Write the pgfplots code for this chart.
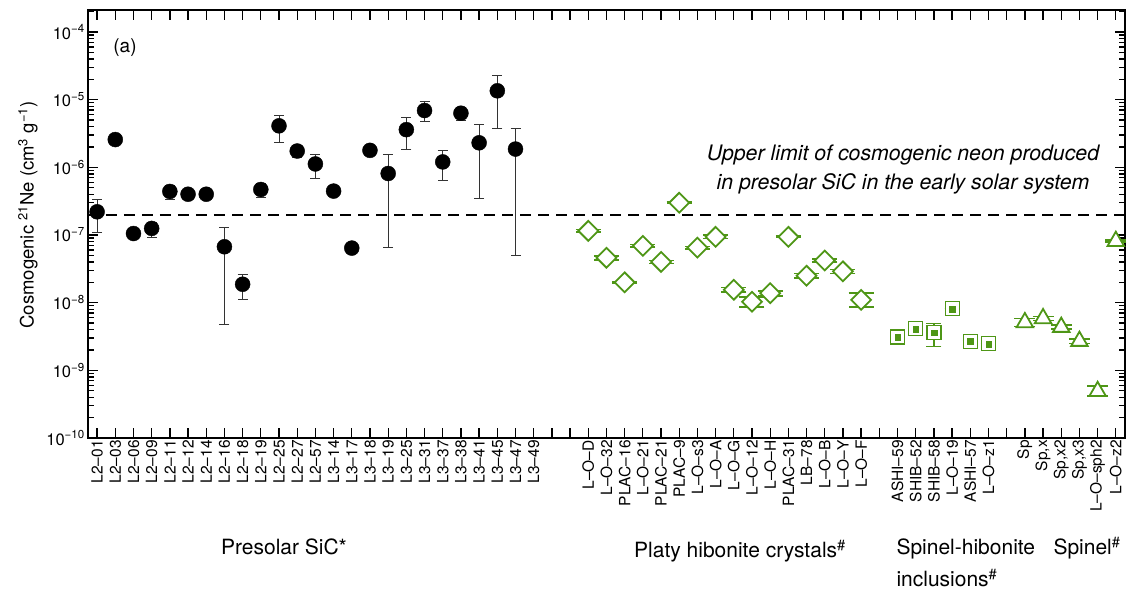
\documentclass[border=0pt]{standalone}
\usepackage{pgfplots}
\pgfplotsset{compat=1.18}
\usepackage{pgfplotstable}
\usepackage{fontspec}
\setmainfont{TeX Gyre Heros}
\definecolor{grn}{RGB}{78,150,22}

\pgfplotstableread{
x y ep em
1 2.2e-7 1.1e-7 1.1e-7
2 2.57e-6 1e-7 1e-7
3 1.05e-7 5e-9 5e-9
4 1.25e-7 3e-8 3.2e-8
5 4.4e-7 1e-7 1e-7
6 4.0e-7 3e-8 3e-8
7 4.0e-7 3e-8 3e-8
8 6.7e-8 6.2e-8 6.22e-8
9 1.87e-8 7.3e-9 7.5e-9
10 4.7e-7 1e-7 1.1e-7
11 4.1e-6 1.8e-6 1.8e-6
12 1.74e-6 3.5e-7 3.5e-7
13 1.12e-6 4.4e-7 4.4e-7
14 4.45e-7 3e-8 3e-8
15 6.4e-8 5e-9 5e-9
16 1.78e-6 1e-7 1e-7
17 8.1e-7 7.5e-7 7.44e-7
18 3.6e-6 1.9e-6 1.74e-6
19 6.9e-6 2.5e-6 2.2e-6
20 1.2e-6 5.8e-7 5.7e-7
21 6.3e-6 1.3e-6 1.3e-6
22 2.3e-6 2.0e-6 1.95e-6
23 1.35e-5 9.5e-6 9.7e-6
24 1.86e-6 1.84e-6 1.81e-6
}\sic

\pgfplotstableread{
x y ep em
28 1.15e-7 5e-9 5e-9
29 4.6e-8 3e-9 3e-9
30 2.0e-8 6e-10 6e-10
31 6.9e-8 3e-9 3e-9
32 4.0e-8 2e-9 2e-9
33 3.0e-7 6e-9 6e-9
34 6.5e-8 3e-9 3e-9
35 9.4e-8 5e-9 5e-9
36 1.55e-8 1.2e-9 1.2e-9
37 1.03e-8 1.7e-9 1.7e-9
38 1.38e-8 1.2e-9 1.2e-9
39 9.4e-8 2e-9 2e-9
40 2.5e-8 2e-9 2e-9
41 4.2e-8 2e-9 2e-9
42 2.9e-8 2e-9 2e-9
43 1.1e-8 2.8e-9 2.4e-9
}\plat

\pgfplotstableread{
x y ep em
45 3.1e-9 0 0
46 4.1e-9 0 0
47 3.6e-9 1.35e-9 1.35e-9
48 8.1e-9 0 0
49 2.7e-9 0 0
50 2.46e-9 0 0
}\shib

\pgfplotstableread{
x y ep em
52 5.1e-9 7.5e-10 6.5e-10
53 5.85e-9 4e-10 4e-10
54 4.35e-9 3e-10 3e-10
55 2.7e-9 2e-10 2e-10
56 4.9e-10 1.0e-10 7.5e-11
57 8.1e-8 3e-9 3e-9
}\spin

\begin{document}
\begin{tikzpicture}
\begin{axis}[
  name=ax,
  scale only axis,
  width=1037pt, height=428pt,
  xmin=0.5, xmax=57.5,
  ymode=log, log basis y=10,
  ymin=1e-10, ymax=2.11e-4,
  clip=false,
  axis line style={line width=2pt},
  tick align=inside,
  xtick pos=both, ytick pos=both,
  major tick length=10pt,
  minor tick length=6pt,
  tick style={black, line width=1.3pt},
  xtick={1,...,57},
  xticklabels={L2–01,L2–03,L2–06,L2–09,L2–11,L2–12,L2–14,L2–16,L2–18,L2–19,L2–25,L2–27,L2–57,L3–14,L3–17,L3–18,L3–19,L3–25,L3–31,L3–37,L3–38,L3–41,L3–45,L3–47,L3–49,,,L–O–D,L–O–32,PLAC–16,L–O–21,PLAC–21,PLAC–9,L–O–s3,L–O–A,L–O–G,L–O–12,L–O–H,PLAC–31,LB–78,L–O–B,L–O–Y,L–O–F,,ASHI–59,SHIB–52,SHIB–58,L–O–19,ASHI–57,L–O–z1,,Sp,{Sp,x},{Sp,x2},{Sp,x3},L–O–sph2,L–O–z2},
  xticklabel style={rotate=90, anchor=east, font=\fontsize{15.5}{15.5}\selectfont, inner sep=2pt},
  ytick={1e-10,1e-9,1e-8,1e-7,1e-6,1e-5,1e-4},
  yticklabels={10\textsuperscript{−10},10\textsuperscript{−9},10\textsuperscript{−8},10\textsuperscript{−7},10\textsuperscript{−6},10\textsuperscript{−5},10\textsuperscript{−4}},
  minor ytick={2e-10,3e-10,4e-10,5e-10,6e-10,7e-10,8e-10,9e-10,
    2e-9,3e-9,4e-9,5e-9,6e-9,7e-9,8e-9,9e-9,
    2e-8,3e-8,4e-8,5e-8,6e-8,7e-8,8e-8,9e-8,
    2e-7,3e-7,4e-7,5e-7,6e-7,7e-7,8e-7,9e-7,
    2e-6,3e-6,4e-6,5e-6,6e-6,7e-6,8e-6,9e-6,
    2e-5,3e-5,4e-5,5e-5,6e-5,7e-5,8e-5,9e-5,2e-4},
  yticklabel style={font=\fontsize{16.5}{16.5}\selectfont, inner sep=3pt},
]
% upper limit
\addplot[black, line width=1.8pt, dash pattern=on 11pt off 7pt] coordinates {(0.5,2e-7) (57.5,2e-7)};

% presolar SiC
\addplot[draw=none, mark=none,
  error bars/.cd, y dir=both, y explicit,
  error bar style={draw=black!80, line width=0.9pt},
  error mark options={rotate=90, draw=black!80, line width=0.9pt, mark size=5pt}]
  table[x=x, y=y, y error plus=ep, y error minus=em]{\sic};
\addplot[only marks, mark=*, mark size=7.5pt, black] table[x=x,y=y]{\sic};

% platy hibonite
\addplot[draw=none, mark=none,
  error bars/.cd, y dir=both, y explicit,
  error bar style={draw=grn, line width=1.6pt},
  error mark options={rotate=90, draw=grn, line width=1.6pt, mark size=12.5pt}]
  table[x=x, y=y, y error plus=ep, y error minus=em]{\plat};
\addplot[only marks, mark=square*, mark size=7pt,
  mark options={rotate=45, draw=grn, fill=white, line width=1.8pt}] table[x=x,y=y]{\plat};

% spinel-hibonite
\addplot[draw=none, mark=none,
  error bars/.cd, y dir=both, y explicit,
  error bar style={draw=grn, line width=1.6pt},
  error mark options={rotate=90, draw=grn, line width=1.6pt, mark size=7.5pt}]
  table[x=x, y=y, y error plus=ep, y error minus=em]{\shib};
\addplot[only marks, mark=square*, mark size=7pt,
  mark options={draw=grn, fill=white, line width=1.2pt}] table[x=x,y=y]{\shib};
\addplot[only marks, mark=square*, mark size=2.8pt,
  mark options={draw=grn, fill=grn, line width=0.1pt}] table[x=x,y=y]{\shib};

% spinel
\addplot[draw=none, mark=none,
  error bars/.cd, y dir=both, y explicit,
  error bar style={draw=grn, line width=1.6pt},
  error mark options={rotate=90, draw=grn, line width=1.6pt, mark size=10.5pt}]
  table[x=x, y=y, y error plus=ep, y error minus=em]{\spin};
\addplot[only marks, mark=triangle*, mark size=9.5pt,
  mark options={draw=grn, fill=white, line width=1.8pt}] table[x=x,y=y]{\spin};
\end{axis}

% y label
\node[rotate=90, font=\fontsize{18.5}{18.5}\selectfont] at ([xshift=-60pt,yshift=223pt]ax.south west)
  {Cosmogenic \textsuperscript{21}Ne (cm\textsuperscript{3} g\textsuperscript{−1})};
% (a)
\node[font=\fontsize{19}{19}\selectfont] at ([xshift=37pt,yshift=390pt]ax.south west) {(a)};
% annotation
\node[font=\fontsize{21.3}{29}\selectfont\itshape, align=center] at ([xshift=815pt,yshift=268pt]ax.south west)
  {Upper limit of cosmogenic neon produced\\in presolar SiC in the early solar system};
% group labels
\node[font=\fontsize{21}{21}\selectfont, anchor=base] at ([xshift=196pt,yshift=-117pt]ax.south west) {Presolar SiC*};
\node[font=\fontsize{21}{21}\selectfont, anchor=base] at ([xshift=652pt,yshift=-120pt]ax.south west) {Platy hibonite crystals\textsuperscript{\#}};
\node[font=\fontsize{21}{21}\selectfont, anchor=base west] at ([xshift=805pt,yshift=-117pt]ax.south west) {Spinel-hibonite};
\node[font=\fontsize{21}{21}\selectfont, anchor=base west] at ([xshift=805pt,yshift=-149pt]ax.south west) {inclusions\textsuperscript{\#}};
\node[font=\fontsize{21}{21}\selectfont, anchor=base west] at ([xshift=962pt,yshift=-117pt]ax.south west) {Spinel\textsuperscript{\#}};

\pgfresetboundingbox
\path[use as bounding box] ([xshift=-88pt,yshift=-156pt]ax.south west) rectangle ([xshift=1045pt,yshift=438pt]ax.south west);
\end{tikzpicture}
\end{document}
